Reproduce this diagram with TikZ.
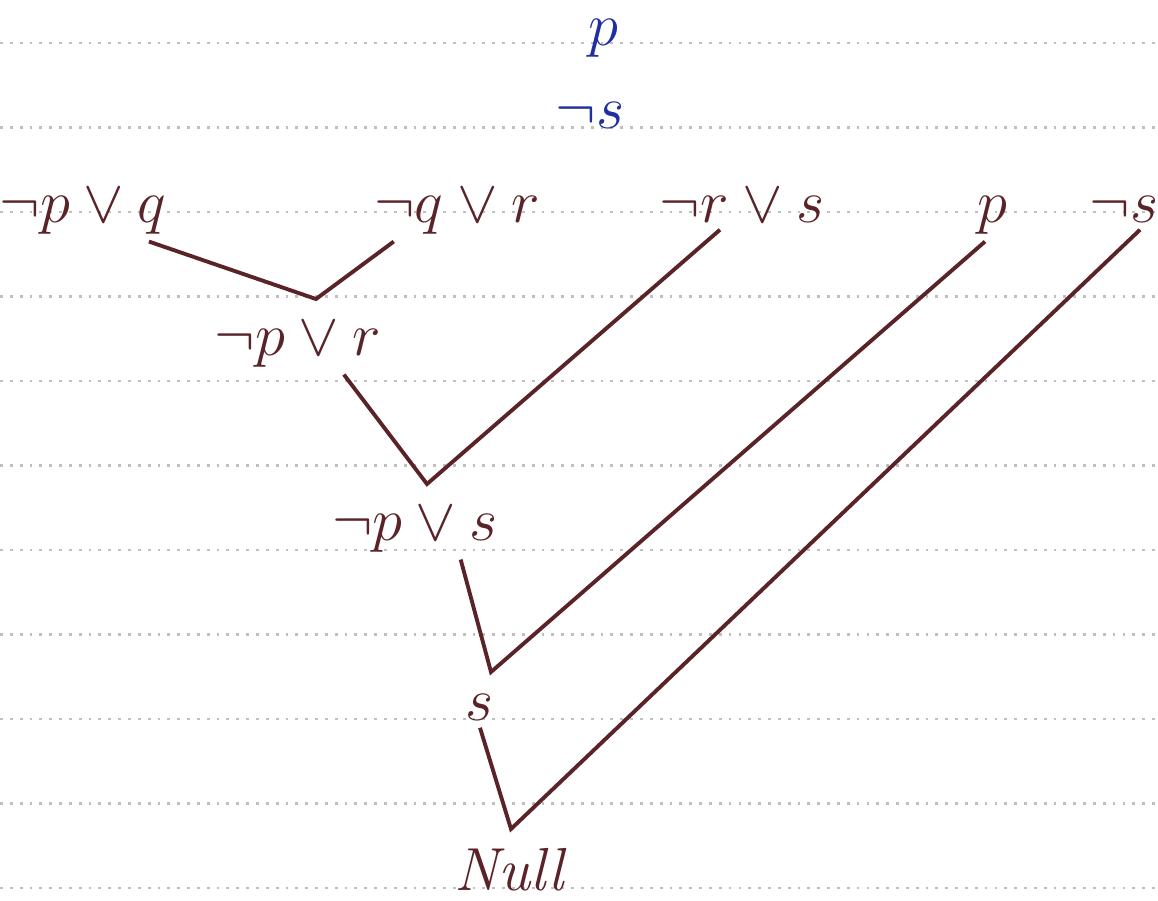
\documentclass[tikz,border=0pt]{standalone}
\usepackage{xcolor}
\definecolor{ink}{HTML}{5A2328}
\definecolor{blueink}{HTML}{1F2FA0}
\begin{document}
\begin{tikzpicture}[x=0.01cm, y=-0.01cm, every node/.style={font=\LARGE, anchor=base, inner sep=2pt}]
    \useasboundingbox (0,0) rectangle (1158,900);
    % ruled lines of the page
    \foreach \k in {0,...,10}
        \draw[black!25, dotted, line width=0.8pt] (0,{43+84.5*\k}) -- (1158,{43+84.5*\k});

    % given clauses
    \node[blueink] (goal) at (603,45) {$p$};
    \node[blueink] (neggoal) at (590,128) {$\neg s$};

    \node[ink] (pq) at (83,222) {$\neg p\vee q$};
    \node[ink] (qr) at (457,222) {$\neg q\vee r$};
    \node[ink] (rs) at (742,222) {$\neg r\vee s$};
    \node[ink] (p) at (992,222) {$p$};
    \node[ink] (ns) at (1124,222) {$\neg s$};

    % resolvents
    \node[ink] (pr) at (298,355) {$\neg p\vee r$};
    \node[ink] (ps) at (415,540) {$\neg p\vee s$};
    \node[ink] (s) at (480,720) {$s$};
    \node[ink] (null) at (512,890) {$\mathit{Null}$};

    \coordinate (j1) at (316,299);
    \coordinate (j2) at (427,484);
    \coordinate (j3) at (491,672);
    \coordinate (j4) at (511,829);

    % resolution steps
    \draw[ink, line width=1.1pt] ([xshift=-0.25cm]pq.south east) -- (j1) -- ([xshift=0.27cm]qr.south west);
    \draw[ink, line width=1.1pt] ([xshift=-0.45cm]pr.south east) -- (j2) -- ([xshift=-0.22cm]rs.south);
    \draw[ink, line width=1.1pt] ([xshift=-0.45cm]ps.south east) -- (j3) -- ([xshift=-0.07cm]p.south);
    \draw[ink, line width=1.1pt] (s.south) -- (j4) -- ([xshift=0.16cm]ns.south);
\end{tikzpicture}
\end{document}
